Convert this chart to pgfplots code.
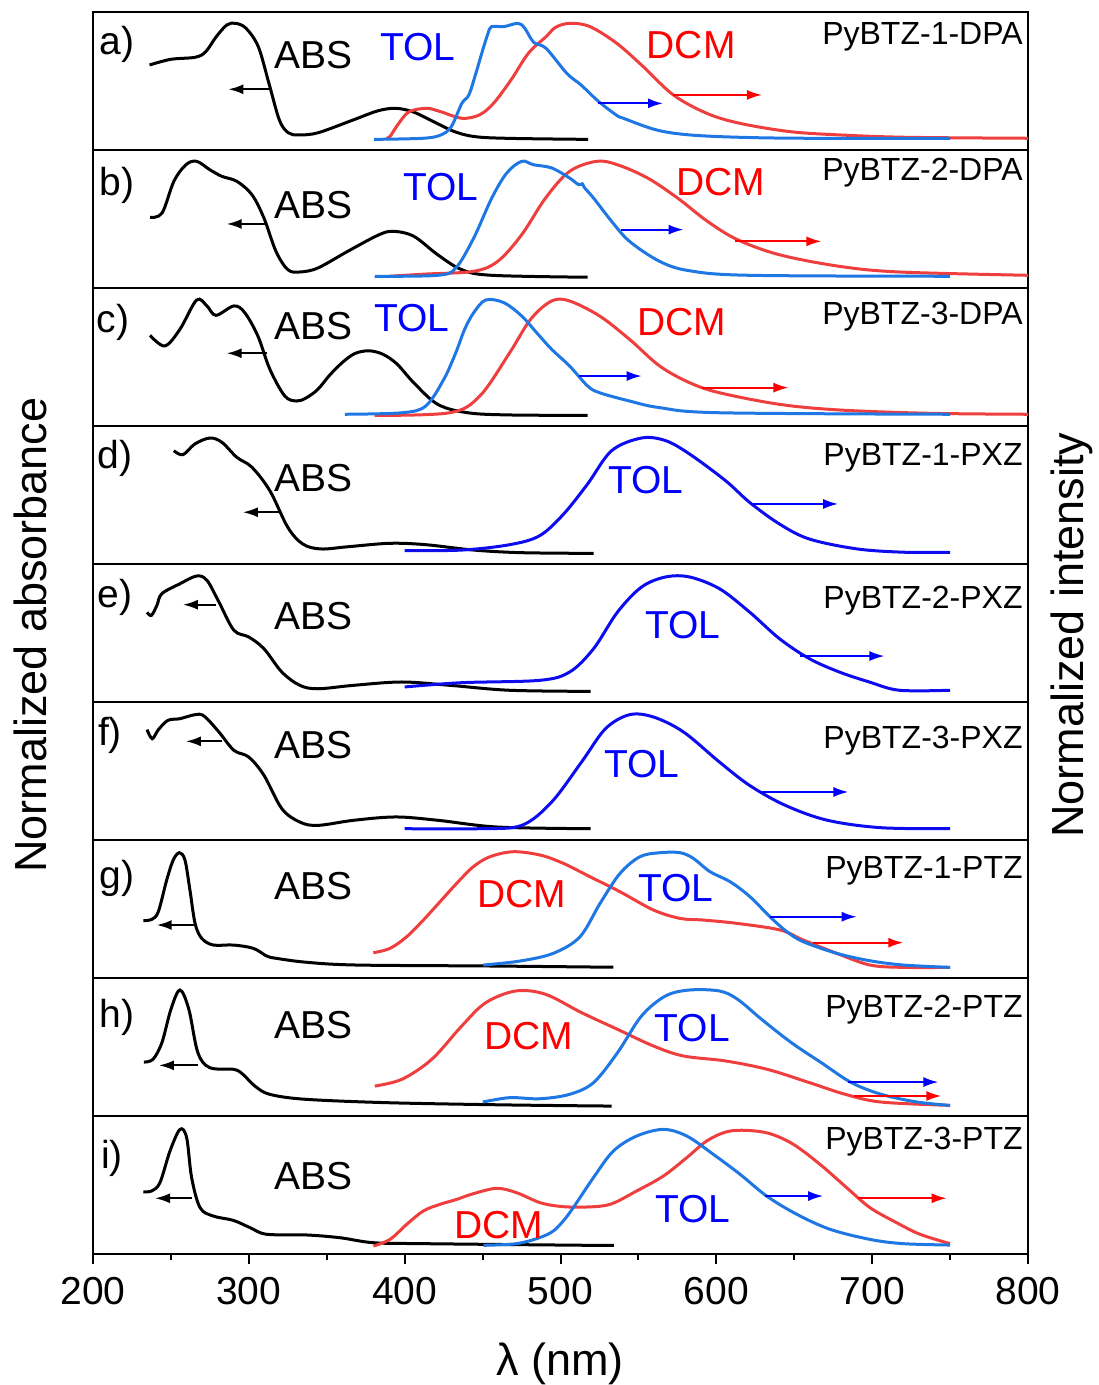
\documentclass[border=0pt]{standalone}
\usepackage{fontspec}
\setmainfont{Liberation Sans}
\usepackage{pgfplots}
\pgfplotsset{compat=1.18}
\usetikzlibrary{arrows.meta}
\definecolor{lblue}{RGB}{31,119,227}
\definecolor{lred}{RGB}{238,62,62}
\definecolor{pblue}{RGB}{12,12,238}
\definecolor{tblue}{RGB}{0,0,255}
\definecolor{tred}{RGB}{255,0,0}
\newcommand\lbl{\fontsize{19.5}{22}\selectfont}
\newcommand\nmf{\fontsize{16}{18}\selectfont}
\newcommand\axf{\fontsize{22.5}{26}\selectfont}
\pgfplotsset{
  panel/.style={scale only axis, width=467.5pt, height=69pt, xmin=200, xmax=800, ymin=0, ymax=1,
    xtick=\empty, ytick=\empty, axis line style={line width=1pt}, anchor=north west},
  cur/.style={line width=1.5pt, smooth, tension=0.55, no markers},
}
\tikzset{arr/.style={line width=1pt, -{Latex[length=7.5pt,width=5pt]}}}
\begin{document}
\begin{tikzpicture}
\useasboundingbox (-46.5pt,6pt) rectangle (502.5pt,-686.5pt);
% ---------------- a
\begin{axis}[panel, at={(0pt,0pt)}]
\addplot[cur, black] coordinates {(236.3,0.616)(249.9,0.657)(265.6,0.672)(272.3,0.712)(279.1,0.821)(285.9,0.906)(291.5,0.918)(298.2,0.882)(306.1,0.748)(312.9,0.483)(319.6,0.217)(325.3,0.125)(332.0,0.109)(344.4,0.125)(366.8,0.217)(382.6,0.283)(393.9,0.302)(405.2,0.277)(418.6,0.205)(432.2,0.132)(445.7,0.096)(468.2,0.084)(517.7,0.077)};
\addplot[cur, lred] coordinates {(388,0.085)(390.5,0.097)(396.2,0.193)(402.9,0.277)(414.1,0.302)(423.2,0.277)(436.7,0.230)(447.9,0.254)(457,0.338)(468.2,0.507)(479.4,0.701)(490.7,0.821)(497,0.890)(506.1,0.918)(518.9,0.894)(536.1,0.773)(553.1,0.604)(572.4,0.399)(593.8,0.266)(615.2,0.193)(647.3,0.133)(679.4,0.109)(722.2,0.092)(800,0.085)};
\addplot[cur, lblue] coordinates {(380.4,0.077)(411.9,0.085)(423.2,0.109)(429.9,0.169)(436.7,0.338)(441.2,0.399)(445.7,0.556)(450.1,0.725)(453.5,0.845)(455.8,0.894)(463.7,0.894)(472.7,0.918)(477.1,0.882)(482.8,0.78)(490.7,0.737)(504,0.556)(513.2,0.471)(524.3,0.353)(535.7,0.254)(540.3,0.230)(561.7,0.145)(583.1,0.109)(615.2,0.092)(658,0.085)(750,0.085)};
\draw[arr, black] (312.9,0.44) -- (286.9,0.44);
\draw[arr, tblue] (524.3,0.338) -- (565.8,0.338);
\draw[arr, tred] (572.4,0.399) -- (629.3,0.399);
\node[font=\lbl] at (215.4,0.768) {a)};
\node[font=\lbl] at (341.2,0.688) {ABS};
\node[font=\lbl, text=tblue] at (408.6,0.746) {TOL};
\node[font=\lbl, text=tred] at (583.8,0.761) {DCM};
\node[font=\nmf, anchor=east, inner sep=0pt] at (796.8,0.819) {PyBTZ-1-DPA};
\end{axis}
% ---------------- b
\begin{axis}[panel, at={(0pt,-69pt)}]
\addplot[cur, black] coordinates {(236.6,0.512)(244.3,0.543)(251.9,0.773)(259.6,0.893)(266.5,0.918)(275,0.857)(282.7,0.809)(292.3,0.773)(302,0.676)(309.7,0.507)(317.4,0.266)(325,0.133)(332.7,0.116)(344.3,0.145)(363.5,0.266)(382.8,0.382)(392.4,0.411)(405.8,0.375)(421.2,0.241)(436.6,0.133)(455.9,0.092)(517.4,0.078)};
\addplot[cur, lred] coordinates {(390,0.085)(413.5,0.101)(444.3,0.121)(459.7,0.193)(475.1,0.386)(490.4,0.652)(505.8,0.845)(523.2,0.918)(536.6,0.893)(555.9,0.797)(575.1,0.652)(594.3,0.483)(613.6,0.350)(640.5,0.241)(679,0.157)(717.5,0.116)(800,0.092)};
\addplot[cur, lblue] coordinates {(380.8,0.085)(421.2,0.092)(432.8,0.145)(444.3,0.362)(455.9,0.652)(465.5,0.833)(475.1,0.918)(482.7,0.893)(494.3,0.870)(505.8,0.797)(511.6,0.749)(514,0.755)(515.5,0.725)(521.2,0.652)(532.8,0.483)(544.3,0.338)(563.6,0.193)(582.8,0.125)(621.3,0.092)(750,0.085)};
\draw[arr, black] (311.6,0.464) -- (285.8,0.464);
\draw[arr, tblue] (538.6,0.423) -- (579,0.423);
\draw[arr, tred] (611.7,0.338) -- (667.4,0.338);
\node[font=\lbl] at (215.4,0.746) {b)};
\node[font=\lbl] at (341.2,0.601) {ABS};
\node[font=\lbl, text=tblue] at (423.3,0.732) {TOL};
\node[font=\lbl, text=tred] at (603.0,0.768) {DCM};
\node[font=\nmf, anchor=east, inner sep=0pt] at (796.8,0.833) {PyBTZ-2-DPA};
\end{axis}
% ---------------- c
\begin{axis}[panel, at={(0pt,-138pt)}]
\addplot[cur, black] coordinates {(236.6,0.657)(246.1,0.580)(255.8,0.701)(266.5,0.913)(273.1,0.870)(278.9,0.802)(290.4,0.870)(297.4,0.821)(305.8,0.652)(313.5,0.411)(323.1,0.217)(330.8,0.181)(337,0.205)(344.3,0.266)(352,0.37)(360,0.46)(368,0.525)(377,0.545)(386,0.52)(395,0.45)(405.8,0.314)(421.2,0.157)(440.5,0.096)(467.4,0.080)(517.4,0.077)};
\addplot[cur, lred] coordinates {(380.8,0.077)(428.9,0.096)(448.2,0.217)(467.4,0.531)(480.8,0.773)(494.3,0.906)(505.8,0.906)(525.1,0.797)(544.3,0.628)(563.6,0.435)(582.8,0.314)(602.0,0.241)(640.5,0.157)(679.0,0.116)(736.7,0.092)(800,0.085)};
\addplot[cur, lblue] coordinates {(361.6,0.085)(398.2,0.096)(413.5,0.145)(425.1,0.338)(432.8,0.531)(438.5,0.701)(444.3,0.821)(452.0,0.913)(463.6,0.894)(475.1,0.797)(484.7,0.676)(494.3,0.556)(505.8,0.435)(517.4,0.290)(525.1,0.241)(544.3,0.181)(563.6,0.133)(602.0,0.096)(750,0.085)};
\draw[arr, black] (311.6,0.527) -- (285.8,0.527);
\draw[arr, tblue] (511.6,0.362) -- (552.1,0.362);
\draw[arr, tred] (590.5,0.278) -- (646.3,0.278);
\node[font=\lbl] at (212.8,0.754) {c)};
\node[font=\lbl] at (341.2,0.725) {ABS};
\node[font=\lbl, text=tblue] at (404.7,0.783) {TOL};
\node[font=\lbl, text=tred] at (577.9,0.754) {DCM};
\node[font=\nmf, anchor=east, inner sep=0pt] at (796.8,0.790) {PyBTZ-3-DPA};
\end{axis}
% ---------------- d
\begin{axis}[panel, at={(0pt,-207pt)}]
\addplot[cur, black] coordinates {(251.9,0.821)(257.7,0.792)(265.4,0.870)(275.0,0.913)(282.7,0.882)(292.3,0.773)(302.0,0.701)(313.5,0.531)(325.0,0.266)(334.6,0.145)(346.2,0.109)(363.5,0.125)(390.5,0.150)(413.5,0.140)(444.3,0.101)(475.1,0.082)(521.2,0.077)};
\addplot[cur, pblue] coordinates {(400,0.097)(436.6,0.101)(467.4,0.140)(486.6,0.205)(502.0,0.362)(517.4,0.580)(532.8,0.821)(552.0,0.913)(567.4,0.894)(582.8,0.797)(605.9,0.604)(621.3,0.447)(640.5,0.290)(659.7,0.181)(690.5,0.109)(721.3,0.085)(750,0.085)};
\draw[arr, black] (320.4,0.375) -- (296.2,0.375);
\draw[arr, tblue] (621.3,0.435) -- (678.2,0.435);
\node[font=\lbl] at (214.1,0.768) {d)};
\node[font=\lbl] at (341.2,0.623) {ABS};
\node[font=\lbl, text=tblue] at (554.9,0.609) {TOL};
\node[font=\nmf, anchor=east, inner sep=0pt] at (796.8,0.768) {PyBTZ-1-PXZ};
\end{axis}
% ---------------- e
\begin{axis}[panel, at={(0pt,-276pt)}]
\addplot[cur, black] coordinates {(234.7,0.65)(237.5,0.628)(241,0.70)(244.2,0.785)(255.8,0.857)(266.5,0.913)(273.1,0.882)(280.8,0.725)(290.4,0.520)(300.0,0.471)(309.7,0.386)(321.2,0.217)(332.7,0.121)(344.3,0.096)(367.4,0.121)(398.2,0.145)(428.9,0.121)(467.4,0.085)(519.3,0.077)};
\addplot[cur, pblue] coordinates {(400,0.109)(436.6,0.140)(486.6,0.157)(505.8,0.217)(521.2,0.386)(536.6,0.652)(552.0,0.833)(567.4,0.906)(582.8,0.906)(602.0,0.821)(621.3,0.652)(640.5,0.459)(659.7,0.314)(679.0,0.217)(698.2,0.145)(717.5,0.085)(750,0.085)};
\draw[arr, black] (278.9,0.705) -- (257.7,0.705);
\draw[arr, tblue] (654,0.333) -- (707.9,0.333);
\node[font=\lbl] at (214.1,0.761) {e)};
\node[font=\lbl] at (341.2,0.623) {ABS};
\node[font=\lbl, text=tblue] at (578.6,0.558) {TOL};
\node[font=\nmf, anchor=east, inner sep=0pt] at (796.8,0.732) {PyBTZ-2-PXZ};
\end{axis}
% ---------------- f
\begin{axis}[panel, at={(0pt,-345pt)}]
\addplot[cur, black] coordinates {(234.7,0.80)(238.0,0.734)(242,0.80)(248.1,0.867)(255.8,0.879)(265.4,0.908)(271.2,0.899)(280.8,0.783)(290.4,0.650)(300.0,0.601)(309.7,0.469)(321.2,0.227)(332.7,0.130)(344.3,0.106)(367.4,0.143)(394.3,0.167)(421.2,0.143)(459.7,0.094)(519.3,0.082)};
\addplot[cur, pblue] coordinates {(400,0.082)(448.2,0.082)(475.1,0.106)(494.3,0.275)(513.5,0.565)(528.9,0.807)(544.3,0.908)(559.7,0.891)(578.9,0.783)(602.0,0.565)(621.3,0.396)(644.3,0.251)(671.3,0.143)(705.9,0.089)(750,0.082)};
\draw[arr, black] (282.7,0.715) -- (259.6,0.715);
\draw[arr, tblue] (627.1,0.348) -- (684.8,0.348);
\node[font=\lbl] at (210.9,0.761) {f)};
\node[font=\lbl] at (341.2,0.688) {ABS};
\node[font=\lbl, text=tblue] at (552.3,0.551) {TOL};
\node[font=\nmf, anchor=east, inner sep=0pt] at (796.8,0.717) {PyBTZ-3-PXZ};
\end{axis}
% ---------------- g
\begin{axis}[panel, at={(0pt,-414pt)}]
\addplot[cur, black] coordinates {(232.3,0.415)(237.7,0.425)(241.9,0.480)(247.3,0.710)(251.5,0.855)(255.4,0.908)(259.0,0.855)(262.2,0.638)(265.5,0.396)(269.8,0.287)(277.2,0.239)(290.0,0.239)(302.9,0.215)(311.5,0.159)(317.9,0.142)(337.1,0.114)(369.2,0.094)(454.8,0.087)(533.9,0.078)};
\addplot[cur, lred] coordinates {(379.9,0.183)(390.6,0.215)(401.3,0.299)(412.0,0.420)(422.7,0.553)(433.4,0.686)(444.0,0.806)(454.8,0.879)(469.7,0.915)(486.9,0.891)(501.8,0.831)(518.9,0.734)(538.2,0.625)(559.6,0.493)(576.7,0.432)(591.6,0.420)(613.1,0.396)(640.9,0.348)(655.8,0.275)(677.2,0.179)(698.6,0.094)(720.0,0.077)(750,0.077)};
\addplot[cur, lblue] coordinates {(450.5,0.094)(474.0,0.123)(495.4,0.179)(512.5,0.299)(525.4,0.541)(538.2,0.758)(551.0,0.879)(563.9,0.908)(576.7,0.908)(585.2,0.867)(596.0,0.770)(608.8,0.698)(621.6,0.589)(634.4,0.444)(645.2,0.336)(655.8,0.263)(677.2,0.179)(698.6,0.125)(720.0,0.094)(750,0.077)};
\draw[arr, black] (265.5,0.384) -- (240.9,0.384);
\draw[arr, tblue] (634.4,0.444) -- (690.1,0.444);
\draw[arr, tred] (662.2,0.256) -- (720,0.256);
\node[font=\lbl] at (215.4,0.725) {g)};
\node[font=\lbl] at (341.2,0.667) {ABS};
\node[font=\lbl, text=tred] at (475.3,0.609) {DCM};
\node[font=\lbl, text=tblue] at (574.1,0.652) {TOL};
\node[font=\nmf, anchor=east, inner sep=0pt] at (796.8,0.775) {PyBTZ-1-PTZ};
\end{axis}
% ---------------- h
\begin{axis}[panel, at={(0pt,-483pt)}]
\addplot[cur, black] coordinates {(232.7,0.391)(238.5,0.411)(244.2,0.531)(250.0,0.773)(255.8,0.913)(261.5,0.773)(267.3,0.459)(275.0,0.350)(290.4,0.338)(296.2,0.302)(303.9,0.217)(313.5,0.157)(336.6,0.121)(390.5,0.096)(467.4,0.080)(532.8,0.072)};
\addplot[cur, lred] coordinates {(380.8,0.217)(398.2,0.266)(417.4,0.411)(436.6,0.652)(452.0,0.821)(471.3,0.906)(490.4,0.882)(513.5,0.749)(536.6,0.628)(559.7,0.507)(578.9,0.435)(605.9,0.399)(632.8,0.338)(659.7,0.242)(682.8,0.157)(705.9,0.101)(750,0.077)};
\addplot[cur, lblue] coordinates {(450.1,0.101)(467.4,0.133)(486.6,0.125)(505.8,0.157)(521.2,0.242)(536.6,0.459)(552.0,0.725)(567.4,0.870)(582.8,0.913)(602.0,0.906)(613.6,0.846)(629.0,0.701)(648.2,0.531)(667.4,0.386)(686.7,0.242)(705.9,0.157)(729.0,0.101)(750,0.077)};
\draw[arr, black] (267.3,0.367) -- (242.3,0.367);
\draw[arr, tblue] (684.8,0.246) -- (742.5,0.246);
\draw[arr, tred] (688.6,0.145) -- (744.4,0.145);
\node[font=\lbl] at (215.4,0.717) {h)};
\node[font=\lbl] at (341.2,0.659) {ABS};
\node[font=\lbl, text=tred] at (479.8,0.580) {DCM};
\node[font=\lbl, text=tblue] at (584.6,0.638) {TOL};
\node[font=\nmf, anchor=east, inner sep=0pt] at (796.8,0.768) {PyBTZ-2-PTZ};
\end{axis}
% ---------------- i
\begin{axis}[panel, at={(0pt,-552pt)},
  xtick={200,300,...,800}, minor x tick num=1, tick align=outside, xtick pos=left,
  major tick length=5pt, minor tick length=3pt, tick style={line width=1pt, black},
  xticklabel style={font=\lbl, yshift=-3pt}, /pgf/number format/assume math mode=true]
\addplot[cur, black] coordinates {(232.3,0.451)(237.7,0.457)(243.0,0.518)(249.4,0.746)(255.8,0.903)(260.1,0.843)(263.3,0.553)(268.7,0.336)(277.2,0.275)(290.0,0.244)(300.8,0.191)(311.5,0.143)(337.1,0.138)(358.5,0.118)(379.9,0.082)(412.0,0.075)(519,0.063)(533.9,0.063)};
\addplot[cur, lred] coordinates {(379.9,0.058)(390.6,0.106)(401.3,0.215)(412.0,0.312)(422.7,0.360)(433.4,0.396)(444.0,0.437)(459.1,0.476)(471.9,0.444)(486.9,0.372)(500,0.345)(515,0.340)(531.8,0.360)(548.9,0.457)(566.0,0.565)(581.0,0.698)(593.8,0.819)(606.7,0.886)(619.5,0.896)(634.4,0.872)(649.4,0.795)(666.5,0.650)(683.6,0.481)(698.6,0.336)(715.7,0.227)(730.7,0.143)(750,0.075)};
\addplot[cur, lblue] coordinates {(450.5,0.063)(471.9,0.075)(486.9,0.12)(495.4,0.167)(501.8,0.24)(508.2,0.336)(521.1,0.553)(533.9,0.746)(548.9,0.855)(566.0,0.903)(581.0,0.855)(598.1,0.722)(615.2,0.578)(632.3,0.420)(651.6,0.288)(673.0,0.179)(698.6,0.106)(720.0,0.075)(750,0.065)};
\draw[arr, black] (263.3,0.404) -- (239.8,0.404);
\draw[arr, tblue] (631.2,0.420) -- (668.6,0.420);
\draw[arr, tred] (691.1,0.404) -- (747.8,0.404);
\node[font=\lbl] at (212.2,0.696) {i)};
\node[font=\lbl] at (341.2,0.565) {ABS};
\node[font=\lbl, text=tred] at (460.5,0.210) {DCM};
\node[font=\lbl, text=tblue] at (585.0,0.326) {TOL};
\node[font=\nmf, anchor=east, inner sep=0pt] at (796.8,0.812) {PyBTZ-3-PTZ};
\end{axis}
\node[font=\axf, rotate=90] at (-31.5pt,-311.5pt) {Normalized absorbance};
\node[font=\axf, rotate=90] at (489.5pt,-311.5pt) {Normalized intensity};
\node[font=\axf] at (233.5pt,-676pt) {λ (nm)};
\end{tikzpicture}
\end{document}
